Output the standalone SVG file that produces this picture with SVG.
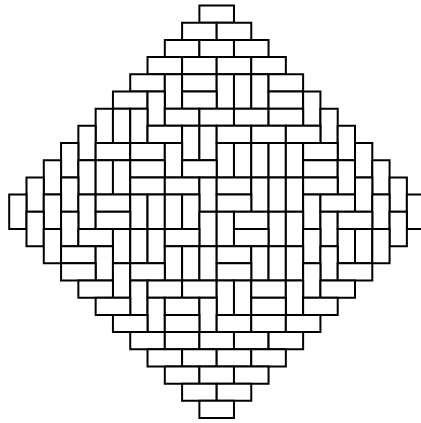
<svg xmlns="http://www.w3.org/2000/svg" width="421" height="423" viewBox="0 0 421 423">
<style>
rect{fill:#fff;stroke:#000;stroke-width:2;vector-effect:non-scaling-stroke}
</style>
<rect x="0" y="0" width="421" height="423" style="stroke:none"/>
<g id="tiling" transform="translate(9.2 5.5) scale(17.29 17.19)">
<rect x="11" y="0" width="2" height="1"/>
<rect x="10" y="1" width="2" height="1"/><rect x="12" y="1" width="2" height="1"/>
<rect x="9" y="2" width="2" height="1"/><rect x="11" y="2" width="2" height="1"/><rect x="13" y="2" width="2" height="1"/>
<rect x="8" y="3" width="2" height="1"/><rect x="10" y="3" width="2" height="1"/><rect x="12" y="3" width="2" height="1"/><rect x="14" y="3" width="2" height="1"/>
<rect x="7" y="4" width="2" height="1"/><rect x="9" y="4" width="1" height="2"/><rect x="10" y="4" width="2" height="1"/><rect x="12" y="4" width="1" height="2"/><rect x="13" y="4" width="1" height="2"/><rect x="14" y="4" width="1" height="2"/><rect x="15" y="4" width="2" height="1"/>
<rect x="6" y="5" width="2" height="1"/><rect x="8" y="5" width="1" height="2"/><rect x="10" y="5" width="2" height="1"/><rect x="15" y="5" width="2" height="1"/><rect x="17" y="5" width="1" height="2"/>
<rect x="5" y="6" width="1" height="2"/><rect x="6" y="6" width="1" height="2"/><rect x="7" y="6" width="1" height="2"/><rect x="9" y="6" width="2" height="1"/><rect x="11" y="6" width="2" height="1"/><rect x="13" y="6" width="2" height="1"/><rect x="15" y="6" width="2" height="1"/><rect x="18" y="6" width="1" height="2"/>
<rect x="4" y="7" width="1" height="2"/><rect x="8" y="7" width="2" height="1"/><rect x="10" y="7" width="1" height="2"/><rect x="11" y="7" width="1" height="2"/><rect x="12" y="7" width="2" height="1"/><rect x="14" y="7" width="2" height="1"/><rect x="16" y="7" width="2" height="1"/><rect x="19" y="7" width="1" height="2"/>
<rect x="3" y="8" width="1" height="2"/><rect x="5" y="8" width="2" height="1"/><rect x="7" y="8" width="2" height="1"/><rect x="9" y="8" width="1" height="2"/><rect x="12" y="8" width="1" height="2"/><rect x="13" y="8" width="1" height="2"/><rect x="14" y="8" width="1" height="2"/><rect x="15" y="8" width="1" height="2"/><rect x="16" y="8" width="1" height="2"/><rect x="17" y="8" width="2" height="1"/><rect x="20" y="8" width="1" height="2"/>
<rect x="2" y="9" width="1" height="2"/><rect x="4" y="9" width="1" height="2"/><rect x="5" y="9" width="1" height="2"/><rect x="6" y="9" width="1" height="2"/><rect x="7" y="9" width="2" height="1"/><rect x="10" y="9" width="2" height="1"/><rect x="17" y="9" width="2" height="1"/><rect x="19" y="9" width="1" height="2"/><rect x="21" y="9" width="1" height="2"/>
<rect x="1" y="10" width="1" height="2"/><rect x="3" y="10" width="1" height="2"/><rect x="7" y="10" width="2" height="1"/><rect x="9" y="10" width="2" height="1"/><rect x="11" y="10" width="1" height="2"/><rect x="12" y="10" width="2" height="1"/><rect x="14" y="10" width="1" height="2"/><rect x="15" y="10" width="1" height="2"/><rect x="16" y="10" width="1" height="2"/><rect x="17" y="10" width="2" height="1"/><rect x="20" y="10" width="1" height="2"/><rect x="22" y="10" width="1" height="2"/>
<rect x="0" y="11" width="1" height="2"/><rect x="2" y="11" width="1" height="2"/><rect x="4" y="11" width="1" height="2"/><rect x="5" y="11" width="2" height="1"/><rect x="7" y="11" width="1" height="2"/><rect x="8" y="11" width="1" height="2"/><rect x="9" y="11" width="1" height="2"/><rect x="10" y="11" width="1" height="2"/><rect x="12" y="11" width="2" height="1"/><rect x="17" y="11" width="1" height="2"/><rect x="18" y="11" width="2" height="1"/><rect x="21" y="11" width="1" height="2"/><rect x="23" y="11" width="1" height="2"/>
<rect x="1" y="12" width="1" height="2"/><rect x="3" y="12" width="1" height="2"/><rect x="5" y="12" width="2" height="1"/><rect x="11" y="12" width="1" height="2"/><rect x="12" y="12" width="1" height="2"/><rect x="13" y="12" width="2" height="1"/><rect x="15" y="12" width="1" height="2"/><rect x="16" y="12" width="1" height="2"/><rect x="18" y="12" width="1" height="2"/><rect x="19" y="12" width="2" height="1"/><rect x="22" y="12" width="1" height="2"/>
<rect x="2" y="13" width="1" height="2"/><rect x="4" y="13" width="2" height="1"/><rect x="6" y="13" width="1" height="2"/><rect x="7" y="13" width="1" height="2"/><rect x="8" y="13" width="1" height="2"/><rect x="9" y="13" width="2" height="1"/><rect x="13" y="13" width="2" height="1"/><rect x="17" y="13" width="1" height="2"/><rect x="19" y="13" width="1" height="2"/><rect x="20" y="13" width="1" height="2"/><rect x="21" y="13" width="1" height="2"/>
<rect x="3" y="14" width="2" height="1"/><rect x="5" y="14" width="1" height="2"/><rect x="9" y="14" width="1" height="2"/><rect x="10" y="14" width="1" height="2"/><rect x="11" y="14" width="1" height="2"/><rect x="12" y="14" width="2" height="1"/><rect x="14" y="14" width="1" height="2"/><rect x="15" y="14" width="1" height="2"/><rect x="16" y="14" width="1" height="2"/><rect x="18" y="14" width="1" height="2"/>
<rect x="3" y="15" width="2" height="1"/><rect x="6" y="15" width="1" height="2"/><rect x="7" y="15" width="2" height="1"/><rect x="12" y="15" width="2" height="1"/><rect x="17" y="15" width="1" height="2"/><rect x="19" y="15" width="2" height="1"/>
<rect x="4" y="16" width="2" height="1"/><rect x="7" y="16" width="1" height="2"/><rect x="8" y="16" width="2" height="1"/><rect x="10" y="16" width="2" height="1"/><rect x="12" y="16" width="1" height="2"/><rect x="13" y="16" width="1" height="2"/><rect x="14" y="16" width="2" height="1"/><rect x="16" y="16" width="1" height="2"/><rect x="18" y="16" width="2" height="1"/>
<rect x="5" y="17" width="2" height="1"/><rect x="8" y="17" width="1" height="2"/><rect x="9" y="17" width="2" height="1"/><rect x="11" y="17" width="1" height="2"/><rect x="14" y="17" width="2" height="1"/><rect x="17" y="17" width="2" height="1"/>
<rect x="6" y="18" width="2" height="1"/><rect x="9" y="18" width="2" height="1"/><rect x="12" y="18" width="2" height="1"/><rect x="14" y="18" width="2" height="1"/><rect x="16" y="18" width="2" height="1"/>
<rect x="7" y="19" width="2" height="1"/><rect x="9" y="19" width="2" height="1"/><rect x="11" y="19" width="2" height="1"/><rect x="13" y="19" width="2" height="1"/><rect x="15" y="19" width="2" height="1"/>
<rect x="8" y="20" width="2" height="1"/><rect x="10" y="20" width="2" height="1"/><rect x="12" y="20" width="2" height="1"/><rect x="14" y="20" width="2" height="1"/>
<rect x="9" y="21" width="2" height="1"/><rect x="11" y="21" width="2" height="1"/><rect x="13" y="21" width="2" height="1"/>
<rect x="10" y="22" width="2" height="1"/><rect x="12" y="22" width="2" height="1"/>
<rect x="11" y="23" width="2" height="1"/>
</g>
</svg>
